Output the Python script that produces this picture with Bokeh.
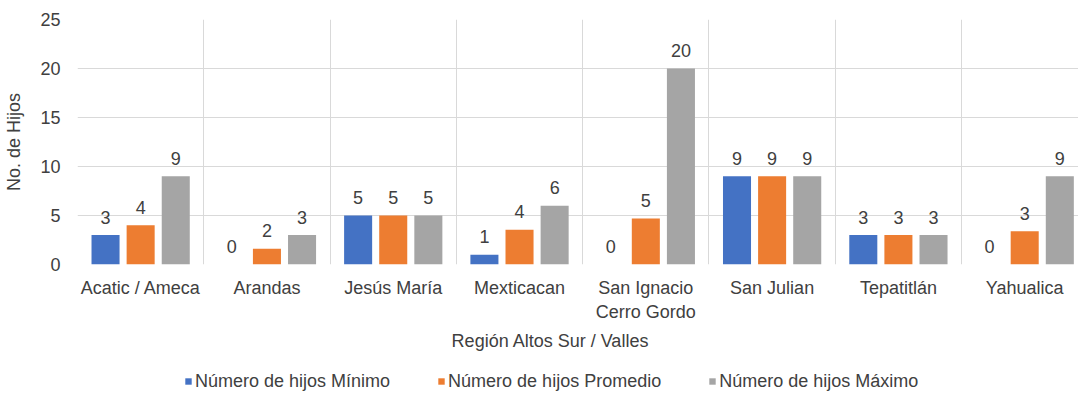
from bokeh.plotting import figure
from bokeh.layouts import column
from bokeh.models import Range1d, FixedTicker, Label, Legend, LegendItem, ColumnDataSource
from bokeh.embed import file_html
from bokeh.resources import INLINE
from bokeh.core.properties import value

categories = ["Acatic / Ameca", "Arandas", "Jesús María", "Mexticacan",
              "San Ignacio\nCerro Gordo", "San Julian", "Tepatitlán", "Yahualica"]
minimo = [3, 0, 5, 1, 0, 9, 3, 0]
promedio = [4.0, 1.6, 5.0, 3.55, 4.7, 9.0, 3.0, 3.4]
maximo = [9, 3, 5, 6, 20, 9, 3, 9]
series_names = ["Número de hijos Mínimo", "Número de hijos Promedio", "Número de hijos Máximo"]
series_values = [minimo, promedio, maximo]
colors = ["#4472C4", "#ED7D31", "#A5A5A5"]
y_ticks = [0, 5, 10, 15, 20, 25]
y_axis_title = "No. de Hijos"
x_axis_title = "Región Altos Sur / Valles"

FONT = "Liberation Sans"
FS = "18px"
TXT = "#404040"

n = len(categories)
idx = list(range(n))
offsets = [-0.278, 0.0, 0.278]
bar_w = 0.222

p = figure(width=1078, height=330, output_backend="svg", toolbar_location=None,
           x_range=Range1d(-0.5, 7.426), y_range=Range1d(0, 25),
           min_border_left=77, min_border_right=0, min_border_top=19,
           min_border_bottom=66)
p.outline_line_color = None

for name, vals, col, off in zip(series_names, series_values, colors, offsets):
    src = ColumnDataSource(dict(
        x=[i + off for i in idx], top=vals,
        lab=["{:.0f}".format(v) for v in vals]))
    p.vbar(x="x", top="top", bottom=0, width=bar_w, source=src,
           fill_color=col, line_color=None)
    p.text(x="x", y="top", text="lab", source=src, text_align="center",
           text_baseline="bottom", y_offset=-11.5, text_font=value(FONT),
           text_font_size=FS, text_color=TXT)

# axes
for ax in (p.xaxis, p.yaxis):
    ax.axis_line_color = None
    ax.major_tick_line_color = None
    ax.minor_tick_line_color = None
    ax.major_tick_out = 0
    ax.major_tick_in = 0
    ax.minor_tick_out = 0
    ax.minor_tick_in = 0
    ax.major_label_text_font = FONT
    ax.major_label_text_font_size = FS
    ax.major_label_text_color = TXT

p.xaxis.ticker = FixedTicker(ticks=idx)
p.xaxis.major_label_overrides = {i: c for i, c in zip(idx, categories)}
p.xaxis.major_label_standoff = 13

p.yaxis.ticker = FixedTicker(ticks=y_ticks)
p.yaxis.major_label_standoff = 17
p.yaxis.axis_label = y_axis_title
p.yaxis.axis_label_text_font = FONT
p.yaxis.axis_label_text_font_size = FS
p.yaxis.axis_label_text_font_style = "normal"
p.yaxis.axis_label_text_color = TXT
p.yaxis.axis_label_standoff = 13

# grids
p.xgrid.ticker = FixedTicker(ticks=[i - 0.5 for i in range(n + 1)])
p.xgrid.grid_line_color = "#d9d9d9"
p.ygrid.grid_line_color = "#d9d9d9"

# ---- bottom strip: x title + legend (frame aligned with the chart's frame) ----
q = figure(width=1078, height=63, output_backend="svg", toolbar_location=None,
           x_range=Range1d(77, 1078), y_range=Range1d(0, 63),
           x_axis_location=None, y_axis_location=None,
           min_border_left=0, min_border_right=0, min_border_top=0,
           min_border_bottom=0)
q.outline_line_color = None
q.xgrid.grid_line_color = None
q.ygrid.grid_line_color = None

q.add_layout(Label(x=550, y=53, text=x_axis_title, text_align="center",
                   text_baseline="middle", text_font=FONT, text_font_size=FS,
                   text_color=TXT))

items = []
for name, col in zip(series_names, colors):
    # zero-height swatch renderer, used only for the legend key
    g = q.vbar(x=[77], top=[0], bottom=0, width=0, fill_color=col, line_color=None)
    items.append(LegendItem(label=name, renderers=[g]))

legend = Legend(items=items, orientation="horizontal", location=(107, 1.5),
                glyph_width=8, glyph_height=8, label_text_font=FONT,
                label_text_font_size=FS, label_text_color=TXT,
                spacing=47, padding=0, margin=0, label_standoff=3,
                border_line_color=None, background_fill_alpha=0)
q.add_layout(legend, "center")

layout = column(p, q, spacing=0)
open("out.html", "w").write(file_html(layout, INLINE))
